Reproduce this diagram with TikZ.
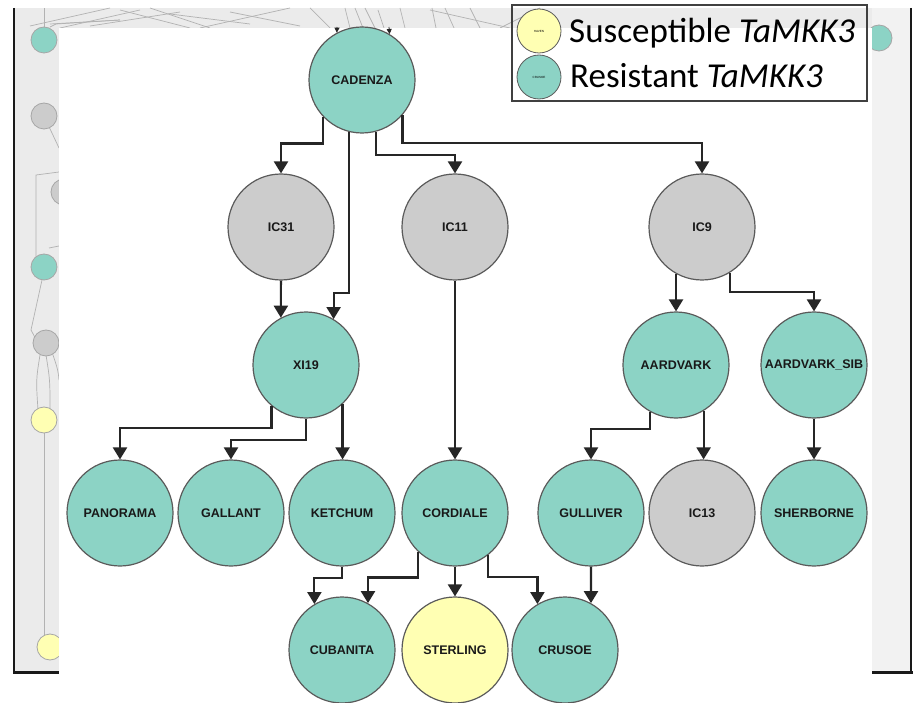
\documentclass[tikz,border=0pt]{standalone}
\usepackage{fontspec}
\usepackage{tikz}
\usetikzlibrary{arrows.meta}
\usetikzlibrary{calc}
\usetikzlibrary{positioning}
\newfontfamily\nodefont{Liberation Sans}
\newfontfamily\legfont{Carlito}
\definecolor{resist}{HTML}{8CD3C5}
\definecolor{unknown}{HTML}{CCCCCC}
\definecolor{suscept}{HTML}{FFFFB3}
\definecolor{panel}{HTML}{EBEBEB}
\definecolor{rim}{HTML}{5A5A5A}

\begin{document}
\begin{tikzpicture}[x=1pt,y=-1pt,
    line/.style={draw=black!85, line width=2.2pt, -{Triangle[width=14pt,length=12pt]}},
    variety/.style={circle, draw=rim, line width=1.2pt, minimum size=106pt, inner sep=0pt,
      font=\nodefont\fontsize{12.5}{14}\selectfont\bfseries, text=black!90},
    ghost/.style={circle, draw=black!35, line width=0.8pt, minimum size=26pt, inner sep=0pt},
    faint/.style={draw=black!30, line width=0.7pt}]
    \useasboundingbox (0,0) rectangle (913,703);
    % background screen
    \fill[panel] (13,8) rectangle (911,672);
    \fill[black!5] (872,8) rectangle (911,672);
    \draw[black!90, line width=2pt] (14,8) -- (14,673);
    \draw[black!90, line width=2pt] (911,8) -- (911,673);
    \draw[black!90, line width=3pt] (13,672) -- (913,672);
    \foreach \a/\b/\c/\d in {30/26/110/8, 60/28/140/10, 90/26/180/12, 120/10/190/28, 150/8/210/28,
        170/14/250/24, 200/28/290/8, 230/12/300/26, 310/8/330/28, 345/8/350/28, 355/8/363/28,
        365/8/375/28, 378/10/384/28, 400/8/405/28, 432/8/436/28, 445/8/454/28, 470/8/480/28,
        430/10/510/28, 500/28/540/8, 50/24/120/20}
      \draw[faint] (\a,\b) -- (\c,\d);
    \draw[faint] (44,116) -- (59,148);
    \draw[faint] (59,172) -- (36,175) -- (36,262);
    \draw[faint] (49,248) -- (59,246);
    \draw[faint] (42,280) -- (31,330) -- (38,343);
    \draw[faint] (40,355) .. controls (36,380) .. (38,410);
    \draw[faint] (46,355) .. controls (50,380) .. (50,410);
    \draw[faint] (52,352) .. controls (58,370) .. (59,380);
    \draw[faint] (44,433) -- (44,636);
    \draw[faint] (44,28) -- (44,8);
    \draw[faint] (50,27) -- (56,24) -- (120,20);
    \node[ghost, fill=resist] (g1) at (44,40) {};
    \node[ghost, fill=unknown] (g2) at (44,116) {};
    \node[ghost, fill=unknown] (g3) at (64,192) {};
    \node[ghost, fill=resist] (g4) at (44,267) {};
    \node[ghost, fill=unknown] (g5) at (46,343) {};
    \node[ghost, fill=suscept] (g6) at (44,420) {};
    \node[ghost, fill=suscept] (g7) at (50,647) {};
    \node[ghost, fill=resist] (g8) at (879,38) {};
    % white front window
    \fill[white] (59,28) rectangle (872,703);
    % legend
    \node[draw=black!75, line width=1.2pt, minimum width=355pt, minimum height=96pt, inner sep=0pt] (leg) at (689.5,53) {};
    \node[circle, draw=rim, line width=0.8pt, fill=suscept, minimum size=44pt, inner sep=0pt,
      font=\nodefont\fontsize{3}{3}\selectfont] (legS) at (539,31) {HAVEN};
    \node[circle, draw=rim, line width=0.8pt, fill=resist, minimum size=44pt, inner sep=0pt,
      font=\nodefont\fontsize{3}{3}\selectfont] (legR) at (539,77) {CRUSOE};
    \node[anchor=base west, inner sep=0pt, font=\legfont\fontsize{35}{36}\selectfont] (txtS) at (569,43) {Susceptible \textit{TaMKK3}};
    \node[anchor=base west, inner sep=0pt, font=\legfont\fontsize{35}{36}\selectfont] (txtR) at (570,88) {Resistant \textit{TaMKK3}};
    % pedigree
    \node[variety, fill=resist] (cad) at (362,80) {CADENZA};
    \node[variety, fill=unknown] (ic31) at (281,227) {IC31};
    \node[variety, fill=unknown] (ic11) at (455,227) {IC11};
    \node[variety, fill=unknown] (ic9) at (702,227) {IC9};
    \node[variety, fill=resist] (xi19) at (306,365) {XI19};
    \node[variety, fill=resist] (aar) at (676,365) {AARDVARK};
    \node[variety, fill=resist] (sib) at (814,365) {AARDVARK\_SIB};
    \node[variety, fill=resist] (pan) at (120,513) {PANORAMA};
    \node[variety, fill=resist] (gal) at (231,513) {GALLANT};
    \node[variety, fill=resist] (ket) at (342,513) {KETCHUM};
    \node[variety, fill=resist] (cor) at (455,513) {CORDIALE};
    \node[variety, fill=resist] (gul) at (591,513) {GULLIVER};
    \node[variety, fill=unknown] (ic13) at (702,513) {IC13};
    \node[variety, fill=resist] (she) at (814,513) {SHERBORNE};
    \node[variety, fill=resist] (cub) at (342,650) {CUBANITA};
    \node[variety, fill=suscept] (ste) at (455,650) {STERLING};
    \node[variety, fill=resist] (cru) at (565,650) {CRUSOE};
    % edges coming in from above
    \coordinate (inA) at (337,27);
    \coordinate (inB) at (389,27);
    \draw[black!85, line width=0.8pt, -{Triangle[width=5pt,length=5pt]}] (inA) -- (cad.118);
    \draw[black!85, line width=0.8pt, -{Triangle[width=5pt,length=5pt]}] (inB) -- (cad.59);
    \path[line] (cad.223) -- ++(0,27) -| (ic31.north);
    \path[line] (cad.256) -- ++(0,161) -| (xi19.59);
    \path[line] (cad.285) -- ++(0,23) -| (ic11.north);
    \path[line] (cad.319) -- ++(0,28) -| (ic9.north);
    \path[line] (ic31) -- (xi19.118);
    \path[line] (ic11) -- (cor);
    \path[line] (ic9.241) -- (ic9.241 |- aar.north);
    \path[line] (ic9.301) -- ++(0,19) -| (sib.north);
    \path[line] (xi19.230) -- ++(0,22) -| (pan.north);
    \path[line] (xi19.south) -- ++(0,21) -| (gal.north);
    \path[line] (xi19.313) -- (xi19.313 |- ket.north);
    \path[line] (ket.south) -- ++(0,11) -| (cub.121);
    \path[line] (cor.226) -- ++(0,26) -| (cub.61);
    \path[line] (cor) -- (ste);
    \path[line] (cor.308) -- ++(0,22) -| (cru.121);
    \path[line] (aar.241) -- ++(0,17) -| (gul.north);
    \path[line] (aar.301) -- (aar.301 |- ic13.north);
    \path[line] (sib) -- (she);
    \path[line] (gul) -- (cru.61);
  \end{tikzpicture}
\end{document}
